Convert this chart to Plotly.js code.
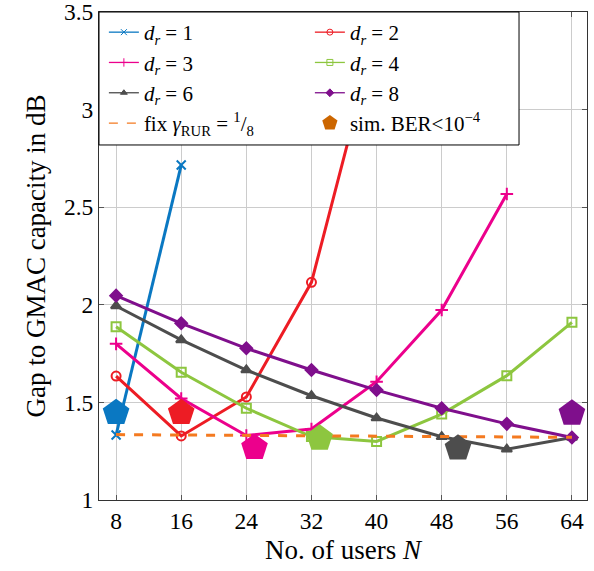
<!DOCTYPE html>
<html>
<head>
<meta charset="utf-8">
<script src="https://cdn.plot.ly/plotly-3.0.1.min.js"></script>
<style>html,body{margin:0;padding:0;background:#fff;}#chart{width:594px;height:571px;}</style>
</head>
<body>
<div id="chart"></div>
<script>
// ---- data ----
const usersN = [8, 16, 24, 32, 40, 48, 56, 64];
const xTicks = [8, 16, 24, 32, 40, 48, 56, 64];
const yTicks = [1, 1.5, 2, 2.5, 3, 3.5];
const yTickText = ["1", "1.5", "2", "2.5", "3", "3.5"];

const gapDr1 = [1.333, 2.716];
const gapDr2 = [1.635, 1.328, 1.528, 2.115, 3.40];
const gapDr3 = [1.80, 1.52, 1.33, 1.364, 1.606, 1.973, 2.568];
const gapDr4 = [1.888, 1.654, 1.47, 1.325, 1.30, 1.44, 1.637, 1.91];
const gapDr6 = [1.994, 1.82, 1.666, 1.534, 1.42, 1.324, 1.26, 1.32];
const gapDr8 = [2.047, 1.905, 1.777, 1.666, 1.563, 1.47, 1.39, 1.32];
const gapFixRUR = [1.335, 1.333, 1.331, 1.329, 1.327, 1.325, 1.323, 1.321];

const simN = [8, 16, 25, 33, 50, 64];
const simGap = [1.447, 1.447, 1.268, 1.316, 1.265, 1.444];

const seriesNames = [
  "<i>d</i><sub><i>r</i></sub> = 1",
  "<i>d</i><sub><i>r</i></sub> = 2",
  "<i>d</i><sub><i>r</i></sub> = 3",
  "<i>d</i><sub><i>r</i></sub> = 4",
  "<i>d</i><sub><i>r</i></sub> = 6",
  "<i>d</i><sub><i>r</i></sub> = 8",
  "fix <i>γ</i><sub>RUR</sub> = <sup>1</sup>/<sub>8</sub>",
  "sim. BER&lt;10<sup>−4</sup>"
];

// ---- styles ----
const cBlue = "#0A78C2", cRed = "#ED1C24", cPink = "#EC008C", cGreen = "#8DC63F",
      cGray = "#4D4D4D", cPurple = "#7F0F8C", cOrange = "#F47A20", cSim = "#CC6600";
const simColors = [cBlue, cRed, cPink, cGreen, cGray, cPurple];

const specs = [
  {y: gapDr1, color: cBlue, symbol: "x-thin"},
  {y: gapDr2, color: cRed, symbol: "circle-open"},
  {y: gapDr3, color: cPink, symbol: "cross-thin"},
  {y: gapDr4, color: cGreen, symbol: "square-open"},
  {y: gapDr6, color: cGray, symbol: "triangle-up"},
  {y: gapDr8, color: cPurple, symbol: "diamond"}
];

const traces = [];
specs.forEach(function (s) {
  traces.push({
    x: usersN.slice(0, s.y.length), y: s.y, type: "scatter", mode: "lines+markers",
    showlegend: false, line: {color: s.color, width: 3},
    marker: {symbol: s.symbol, size: 9, color: s.color, line: {color: s.color, width: 2}}
  });
});
traces.push({x: usersN, y: gapFixRUR, type: "scatter", mode: "lines", showlegend: false,
             line: {color: cOrange, width: 3, dash: "dash"}});
traces.push({x: simN, y: simGap, type: "scatter", mode: "markers", showlegend: false,
             marker: {symbol: "pentagon", size: 28, color: simColors}});

// legend-only entries (thin lines, small markers as in the reference legend)
specs.forEach(function (s, i) {
  traces.push({
    x: [null], y: [null], name: seriesNames[i], type: "scatter", mode: "lines+markers",
    line: {color: s.color, width: 1.3},
    marker: {symbol: s.symbol, size: 6, color: s.color, line: {color: s.color, width: 1}}
  });
});
traces.push({x: [null], y: [null], name: seriesNames[6], type: "scatter", mode: "lines",
             line: {color: cOrange, width: 1.3, dash: "dash"}});
traces.push({x: [null], y: [null], name: seriesNames[7], type: "scatter", mode: "markers",
             marker: {symbol: "pentagon", size: 22, color: cSim}});

const fontFam = "Liberation Serif, Times New Roman, serif";

const layout = {
  width: 594, height: 571,
  margin: {l: 99, r: 7, t: 12, b: 71},
  paper_bgcolor: "#fff", plot_bgcolor: "#fff",
  font: {family: fontFam, size: 20, color: "#000"},
  showlegend: true,
  legend: {
    orientation: "h", x: 0.01, y: 1, xanchor: "left", yanchor: "top",
    bgcolor: "rgba(0,0,0,0)", borderwidth: 0,
    font: {family: fontFam, size: 21, color: "#000"},
    entrywidth: 161, entrywidthmode: "pixels", traceorder: "normal"
  },
  shapes: [{
    type: "rect", xref: "paper", yref: "paper", x0: 0, x1: 0.8607, y0: 0.7275, y1: 1,
    line: {color: "#000", width: 1}, fillcolor: "#fff", layer: "above"
  }],
  xaxis: {
    range: [5.9, 65.85], tickvals: xTicks, ticktext: xTicks.map(String),
    showgrid: true, gridcolor: "#cccccc", gridwidth: 1,
    showline: true, linecolor: "#333", linewidth: 1, mirror: "ticks",
    ticks: "inside", ticklen: 5, tickcolor: "#555",
    zeroline: false, ticklabeloverflow: "allow",
    tickfont: {family: fontFam, size: 23.5},
    title: {text: "No. of users <i>N</i>", font: {family: fontFam, size: 27}, standoff: 6}
  },
  yaxis: {
    range: [1, 3.5], tickvals: yTicks, ticktext: yTickText,
    showgrid: true, gridcolor: "#cccccc", gridwidth: 1,
    showline: true, linecolor: "#333", linewidth: 1, mirror: "ticks",
    ticks: "inside", ticklen: 5, tickcolor: "#555",
    zeroline: false, ticklabeloverflow: "allow",
    tickfont: {family: fontFam, size: 23.5},
    title: {text: "Gap to GMAC capacity in dB", font: {family: fontFam, size: 27}, standoff: 10}
  }
};

Plotly.newPlot("chart", traces, layout, {displayModeBar: false, staticPlot: true});
</script>
</body>
</html>
